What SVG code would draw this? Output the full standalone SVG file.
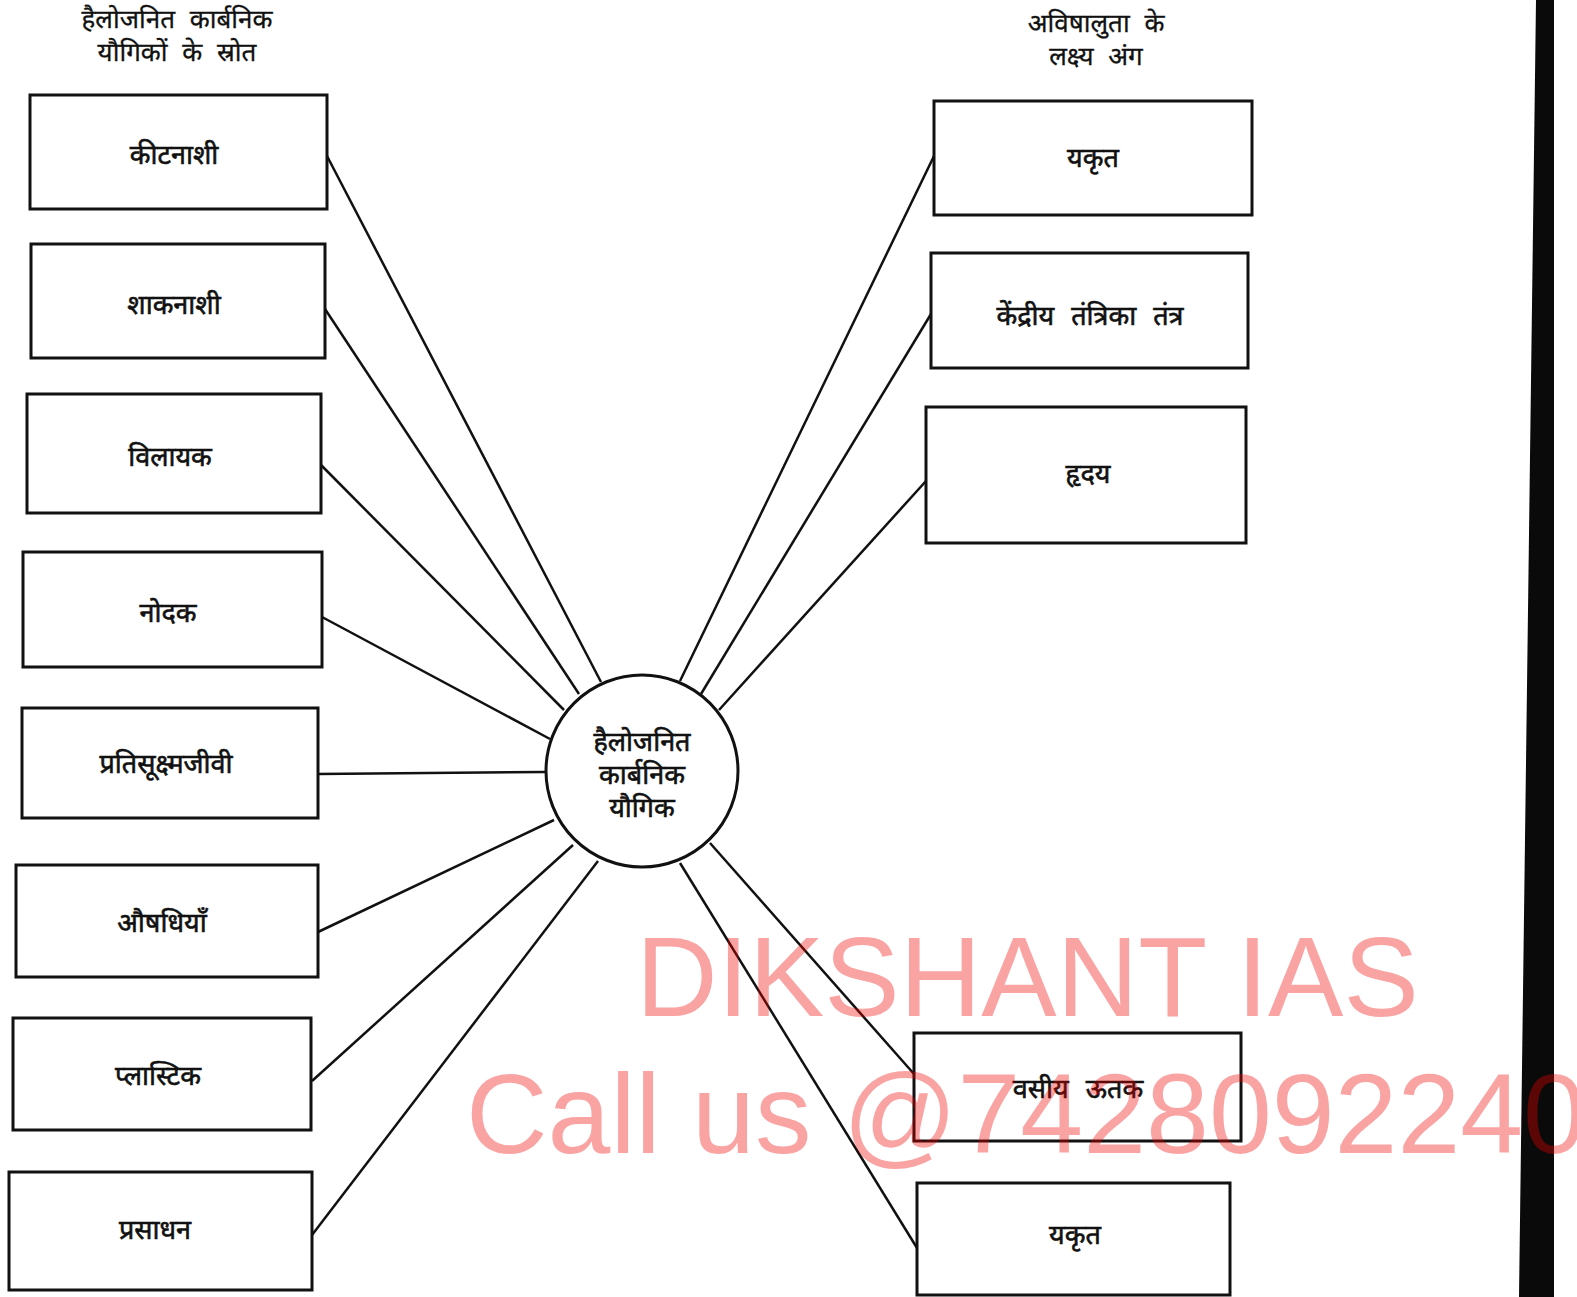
<svg xmlns="http://www.w3.org/2000/svg" width="1577" height="1297" viewBox="0 0 1577 1297">
<style>
.box{fill:#fff;stroke:#111;stroke-width:3}
.lbl{font-family:"Noto Sans","Noto Sans Devanagari","Lohit Devanagari",sans-serif;font-size:27px;fill:#111;stroke:#111;stroke-width:0.6;text-anchor:middle;dominant-baseline:central;word-spacing:10px}
.ctr{font-size:27px}
.ttl{font-family:"Noto Sans","Noto Sans Devanagari","Lohit Devanagari",sans-serif;font-size:26px;fill:#111;stroke:#111;stroke-width:0.3;text-anchor:middle;word-spacing:8px}
.con line{stroke:#111;stroke-width:2.5}
.wm{font-family:"Liberation Sans",Arial,sans-serif;font-size:113px;fill:#f00000;fill-opacity:0.36}
</style>
<rect width="1577" height="1297" fill="#fff"/>
<polygon points="1536,0 1554,0 1554,1297 1519,1297" fill="#0a0a0a"/>
<g id="titles">
<text class="ttl" x="177" y="28">हैलोजनित कार्बनिक</text>
<text class="ttl" x="177" y="61">यौगिकों के स्रोत</text>
<text class="ttl" x="1096" y="32">अविषालुता के</text>
<text class="ttl" x="1096" y="65">लक्ष्य अंग</text>
</g>
<g id="connectors" class="con">
<line x1="327" y1="156" x2="601" y2="682"/>
<line x1="325" y1="309" x2="579" y2="694"/>
<line x1="321" y1="465" x2="564" y2="710"/>
<line x1="322" y1="617" x2="550" y2="739"/>
<line x1="318" y1="774" x2="545" y2="772"/>
<line x1="318" y1="932" x2="554" y2="820"/>
<line x1="312" y1="1081" x2="573" y2="845"/>
<line x1="312" y1="1235" x2="598" y2="861"/>
<line x1="934" y1="156" x2="680" y2="681"/>
<line x1="931" y1="314" x2="701" y2="694"/>
<line x1="926" y1="481" x2="719" y2="710"/>
<line x1="914" y1="1074" x2="710" y2="843"/>
<line x1="917" y1="1248" x2="680" y2="863"/>
</g>
<g id="n-center"><circle cx="642" cy="771" r="96" fill="#fff" stroke="#111" stroke-width="3"/>
<text class="lbl ctr" x="642" y="740">हैलोजनित</text>
<text class="lbl ctr" x="642" y="773">कार्बनिक</text>
<text class="lbl ctr" x="642" y="806">यौगिक</text></g>
<g id="n-l1"><rect class="box" x="30" y="95" width="297" height="114"/><text class="lbl" x="174" y="153">कीटनाशी</text></g>
<g id="n-l2"><rect class="box" x="31" y="244" width="294" height="114"/><text class="lbl" x="174" y="303">शाकनाशी</text></g>
<g id="n-l3"><rect class="box" x="27" y="394" width="294" height="119"/><text class="lbl" x="170" y="455">विलायक</text></g>
<g id="n-l4"><rect class="box" x="23" y="552" width="299" height="115"/><text class="lbl" x="168" y="611">नोदक</text></g>
<g id="n-l5"><rect class="box" x="22" y="708" width="296" height="110"/><text class="lbl" x="166" y="762">प्रतिसूक्ष्मजीवी</text></g>
<g id="n-l6"><rect class="box" x="16" y="865" width="302" height="112"/><text class="lbl" x="162" y="921">औषधियाँ</text></g>
<g id="n-l7"><rect class="box" x="13" y="1018" width="298" height="112"/><text class="lbl" x="158" y="1074">प्लास्टिक</text></g>
<g id="n-l8"><rect class="box" x="9" y="1172" width="303" height="118"/><text class="lbl" x="155" y="1228">प्रसाधन</text></g>
<g id="n-r1"><rect class="box" x="934" y="101" width="318" height="114"/><text class="lbl" x="1093" y="156">यकृत</text></g>
<g id="n-r2"><rect class="box" x="931" y="253" width="317" height="115"/><text class="lbl" x="1090" y="314">केंद्रीय तंत्रिका तंत्र</text></g>
<g id="n-r3"><rect class="box" x="926" y="407" width="320" height="136"/><text class="lbl" x="1088" y="472">हृदय</text></g>
<g id="n-r4"><rect class="box" x="914" y="1033" width="327" height="108"/><text class="lbl" x="1078" y="1087">वसीय ऊतक</text></g>
<g id="n-r5"><rect class="box" x="917" y="1183" width="313" height="112"/><text class="lbl" x="1075" y="1233">यकृत</text></g>
<g id="watermark">
<text class="wm" x="636" y="1016">DIKSHANT IAS</text>
<text class="wm" x="466" y="1153">Call us @7428092240</text>
</g>
</svg>
